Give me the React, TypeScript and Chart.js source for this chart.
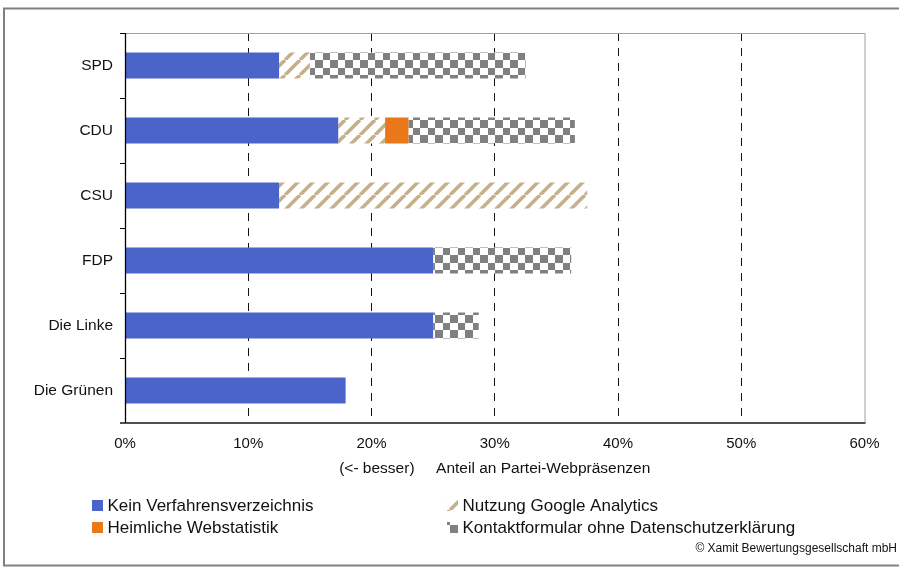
import React, { useEffect, useRef } from 'react';
import { Chart, registerables } from 'chart.js';

Chart.register(...registerables);

const parties = ['SPD', 'CDU', 'CSU', 'FDP', 'Die Linke', 'Die Grünen'];
const keinVerzeichnis = [12.5, 17.3, 12.5, 25.0, 25.0, 17.9];
const googleAnalytics = [2.5, 3.8, 25.0, 0, 0, 0];
const heimlicheStatistik = [0, 1.9, 0, 0, 0, 0];
const kontaktformular = [17.5, 13.5, 0, 11.2, 3.7, 0];
const seriesNames = [
  'Kein Verfahrensverzeichnis',
  'Nutzung Google Analytics',
  'Heimliche Webstatistik',
  'Kontaktformular ohne Datenschutzerklärung',
];
const xMin = 0;
const xMax = 60;
const xStep = 10;
const axisTitle = '(<- besser)     Anteil an Partei-Webpräsenzen';
const copyright = '© Xamit Bewertungsgesellschaft mbH';

const FONT = '"Liberation Sans", Arial, sans-serif';

function makeHatch(): CanvasPattern | string {
  const c = document.createElement('canvas');
  c.width = 15;
  c.height = 15;
  const g = c.getContext('2d');
  if (!g) return '#c8b48c';
  g.fillStyle = '#ffffff';
  g.fillRect(0, 0, 15, 15);
  g.strokeStyle = '#c4b089';
  g.lineWidth = 3.6;
  for (const k of [-15, 0, 15]) {
    g.beginPath();
    g.moveTo(k, 15);
    g.lineTo(k + 15, 0);
    g.stroke();
  }
  return g.createPattern(c, 'repeat') || '#c8b48c';
}

function makeChecker(): CanvasPattern | string {
  const c = document.createElement('canvas');
  c.width = 15;
  c.height = 15;
  const g = c.getContext('2d');
  if (!g) return '#999';
  g.fillStyle = '#ffffff';
  g.fillRect(0, 0, 15, 15);
  g.fillStyle = '#808080';
  g.fillRect(0, 0, 8, 8);
  g.fillRect(8, 8, 7, 7);
  return g.createPattern(c, 'repeat') || '#999';
}

const decorPlugin = {
  id: 'decor',
  beforeDraw(chart: any) {
    const ctx = chart.ctx;
    ctx.save();
    ctx.fillStyle = '#ffffff';
    ctx.fillRect(0, 0, chart.width, chart.height);
    ctx.restore();
  },
  afterDraw(chart: any) {
    const ctx = chart.ctx;
    const a = chart.chartArea;
    ctx.save();
    // plot area top and right border
    ctx.strokeStyle = '#a0a0a0';
    ctx.lineWidth = 1;
    ctx.beginPath();
    ctx.moveTo(a.left, a.top + 0.5);
    ctx.lineTo(a.right + 0.5, a.top + 0.5);
    ctx.lineTo(a.right + 0.5, a.bottom);
    ctx.stroke();
    // x axis line
    ctx.strokeStyle = '#505050';
    ctx.lineWidth = 2;
    ctx.beginPath();
    ctx.moveTo(a.left - 5, a.bottom);
    ctx.lineTo(a.right + 1, a.bottom);
    ctx.stroke();
    // y axis line
    ctx.strokeStyle = '#000000';
    ctx.lineWidth = 1.3;
    ctx.beginPath();
    ctx.moveTo(a.left + 0.5, a.top);
    ctx.lineTo(a.left + 0.5, a.bottom);
    ctx.stroke();

    // outer frame
    ctx.strokeStyle = '#808080';
    ctx.lineWidth = 2;
    ctx.strokeRect(4, 8.5, 900, 557);

    // legend
    const ds = chart.data.datasets;
    const cols = [92, 447];
    const rows = [505.5, 527.5];
    const order = [0, 2, 1, 3];
    ctx.font = '17px ' + FONT;
    ctx.textBaseline = 'middle';
    ctx.textAlign = 'left';
    order.forEach((di, i) => {
      const col = cols[Math.floor(i / 2)];
      const row = rows[i % 2];
      ctx.fillStyle = ds[di].backgroundColor;
      ctx.fillRect(col, row - 5.5, 11, 11);
      ctx.fillStyle = '#111111';
      ctx.fillText(ds[di].label, col + 15.5, row + 0.5);
    });

    // copyright
    ctx.font = '12px ' + FONT;
    ctx.textAlign = 'right';
    ctx.fillStyle = '#111111';
    ctx.fillText(copyright, 897, 549);
    ctx.restore();
  },
};

export default function App() {
  const ref = useRef<HTMLCanvasElement | null>(null);

  useEffect(() => {
    if (!ref.current) return;
    const hatch = makeHatch();
    const checker = makeChecker();
    const colors = ['#4b64c9', hatch, '#e8781a', checker];
    const values = [keinVerzeichnis, googleAnalytics, heimlicheStatistik, kontaktformular];
    const chart = new Chart(ref.current, {
      type: 'bar',
      data: {
        labels: parties,
        datasets: values.map((v, i) => ({
          label: seriesNames[i],
          data: v,
          backgroundColor: colors[i] as any,
          borderWidth: 0,
          barPercentage: 0.4,
          categoryPercentage: 1,
        })),
      },
      options: {
        indexAxis: 'y',
        responsive: false,
        animation: false,
        layout: { padding: { top: 33, right: 34.5, left: 0, bottom: 94 } },
        plugins: {
          legend: { display: false },
          tooltip: { enabled: false },
        },
        scales: {
          x: {
            type: 'linear',
            stacked: true,
            min: xMin,
            max: xMax,
            ticks: {
              stepSize: xStep,
              padding: 12,
              color: '#111111',
              font: { family: FONT, size: 15 },
              callback: (v: any) => v + '%',
            },
            grid: {
              drawTicks: false,
              lineWidth: 1,
              color: (c: any) =>
                c.tick && (c.tick.value === xMin || c.tick.value === xMax) ? 'rgba(0,0,0,0)' : '#111111',
            },
            border: { display: false, dash: [8, 7] },
            title: {
              display: true,
              text: axisTitle,
              color: '#111111',
              font: { family: FONT, size: 15.5 },
              padding: { top: 0, bottom: 0 },
            },
            afterFit: (s: any) => {
              s.height = 55;
            },
          },
          y: {
            type: 'category',
            stacked: true,
            ticks: {
              padding: 7,
              color: '#111111',
              font: { family: FONT, size: 15.5 },
            },
            grid: {
              offset: true,
              drawOnChartArea: false,
              drawTicks: true,
              tickLength: 5,
              tickColor: '#000000',
              tickWidth: 1,
            },
            border: { display: false },
            afterFit: (s: any) => {
              s.width = 125;
            },
          },
        },
      } as any,
      plugins: [decorPlugin],
    });
    return () => chart.destroy();
  }, []);

  return (
    <div style={{ position: 'absolute', left: 0, top: 0, width: 899, height: 572 }}>
      <canvas ref={ref} width={899} height={572} style={{ display: 'block' }} />
    </div>
  );
}
